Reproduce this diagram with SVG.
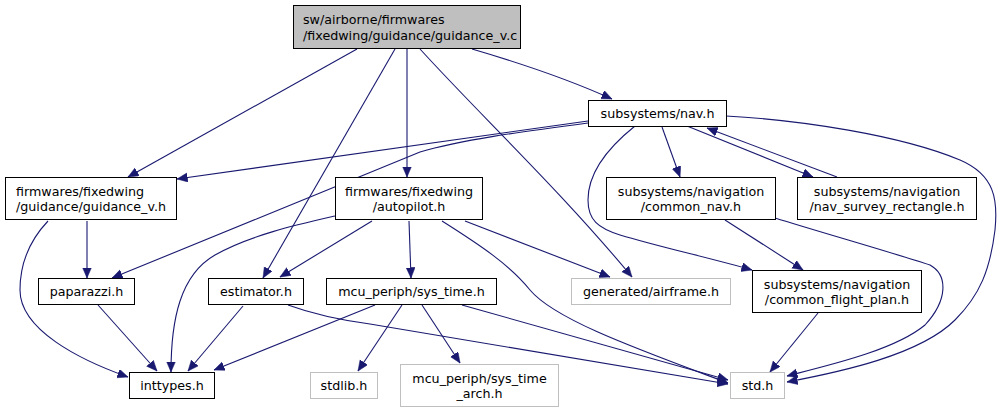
<svg xmlns="http://www.w3.org/2000/svg" width="1001" height="413" viewBox="0 0 1001 413">
<style>
.n rect{fill:#fff;stroke:#000;stroke-width:1}
.n.g rect{stroke:#bfbfbf}
.n.root rect{fill:#bfbfbf}
text{font-family:"DejaVu Sans","Noto Sans",sans-serif;font-size:12.7px;fill:#000}
.c{text-anchor:middle}
#edges path{fill:none;stroke:#191970;stroke-width:1.1;marker-end:url(#ah)}
</style>
<defs>
<marker id="ah" markerUnits="userSpaceOnUse" markerWidth="12" markerHeight="10" refX="10.5" refY="4.5" orient="auto">
<path d="M0,0 L10.5,4.5 L0,9 z" fill="#191970" stroke="#191970" stroke-width="0.5"/>
</marker>
</defs>
<rect width="1001" height="413" fill="#fff"/>
<g id="edges">
<path d="M472,49 C520,63 570,80 612,99"/>
<path d="M357,49 L128,177"/>
<path d="M395,49 L263,278"/>
<path d="M407,49 L407,177"/>
<path d="M420,49 C480,115 560,190 632,277"/>
<path d="M588,121 L177,179"/>
<path d="M588,123 C520,132 460,140 420,152 C340,185 200,242 112,278"/>
<path d="M662,127 L680,177"/>
<path d="M687,126 L813,177"/>
<path d="M837,177 L707,128"/>
<path d="M635,126 C605,150 588,175 588,200 C588,220 598,228 620,235 C660,247 710,258 752,270"/>
<path d="M726,116 C800,120 900,135 960,160 C995,175 998,200 995,230 C990,270 980,295 955,320 C920,355 840,372 787,382"/>
<path d="M87,221 L87,278"/>
<path d="M48,221 C30,240 20,262 20,290 C20,330 80,360 128,377"/>
<path d="M372,221 L280,277"/>
<path d="M335,216 C300,224 250,235 215,255 C180,275 171,320 171,372"/>
<path d="M409,221 L411,278"/>
<path d="M465,221 L610,277"/>
<path d="M442,221 C480,245 510,265 530,290 C555,320 640,350 728,383"/>
<path d="M725,220 L803,270"/>
<path d="M775,218 C820,232 900,255 930,265 C948,275 948,300 925,325 C895,350 830,365 787,376"/>
<path d="M818,313 L770,372"/>
<path d="M98,305 L157,371"/>
<path d="M243,306 L188,371"/>
<path d="M288,305 C310,313 340,320 370,324 L728,384"/>
<path d="M375,305 L214,370"/>
<path d="M402,305 L358,371"/>
<path d="M422,305 L460,363"/>
<path d="M462,305 L728,380"/>
</g>
<g id="n_guidance_v_c" class="n root"><rect x="293.5" y="5.5" width="227" height="43"/><text x="303" y="24">sw/airborne/firmwares</text><text x="303" y="39.5">/fixedwing/guidance/guidance_v.c</text></g>
<g id="n_nav_h" class="n"><rect x="588.5" y="100.5" width="138" height="26"/><text class="c" x="657.5" y="118">subsystems/nav.h</text></g>
<g id="n_guidance_v_h" class="n"><rect x="5.5" y="177.5" width="171" height="42"/><text x="16" y="195.5">firmwares/fixedwing</text><text x="16" y="210.5">/guidance/guidance_v.h</text></g>
<g id="n_autopilot_h" class="n"><rect x="335.5" y="177.5" width="147" height="42"/><text class="c" x="409" y="195.5">firmwares/fixedwing</text><text class="c" x="409" y="210.5">/autopilot.h</text></g>
<g id="n_common_nav_h" class="n"><rect x="606.5" y="177.5" width="169" height="42"/><text class="c" x="691" y="195.5">subsystems/navigation</text><text class="c" x="691" y="210.5">/common_nav.h</text></g>
<g id="n_nav_survey_rectangle_h" class="n"><rect x="797.5" y="177.5" width="179" height="42"/><text class="c" x="887" y="195.5">subsystems/navigation</text><text class="c" x="887" y="210.5">/nav_survey_rectangle.h</text></g>
<g id="n_paparazzi_h" class="n"><rect x="38.5" y="278.5" width="96" height="26"/><text class="c" x="86.5" y="296">paparazzi.h</text></g>
<g id="n_estimator_h" class="n"><rect x="208.5" y="278.5" width="95" height="26"/><text class="c" x="256" y="296">estimator.h</text></g>
<g id="n_sys_time_h" class="n"><rect x="326.5" y="278.5" width="170" height="26"/><text class="c" x="411.5" y="296">mcu_periph/sys_time.h</text></g>
<g id="n_airframe_h" class="n g"><rect x="571.5" y="278.5" width="159" height="26"/><text class="c" x="651" y="296">generated/airframe.h</text></g>
<g id="n_common_flight_plan_h" class="n"><rect x="752.5" y="270.5" width="169" height="42"/><text class="c" x="837" y="288.5">subsystems/navigation</text><text class="c" x="837" y="303.5">/common_flight_plan.h</text></g>
<g id="n_inttypes_h" class="n"><rect x="129.5" y="372.5" width="85" height="26"/><text class="c" x="172" y="390">inttypes.h</text></g>
<g id="n_stdlib_h" class="n g"><rect x="310.5" y="372.5" width="67" height="26"/><text class="c" x="344" y="390">stdlib.h</text></g>
<g id="n_sys_time_arch_h" class="n g"><rect x="400.5" y="364.5" width="158" height="42"/><text class="c" x="479.5" y="382.5">mcu_periph/sys_time</text><text class="c" x="479.5" y="397.5">_arch.h</text></g>
<g id="n_std_h" class="n g"><rect x="730.5" y="372.5" width="54" height="26"/><text class="c" x="757.5" y="390">std.h</text></g>
</svg>
